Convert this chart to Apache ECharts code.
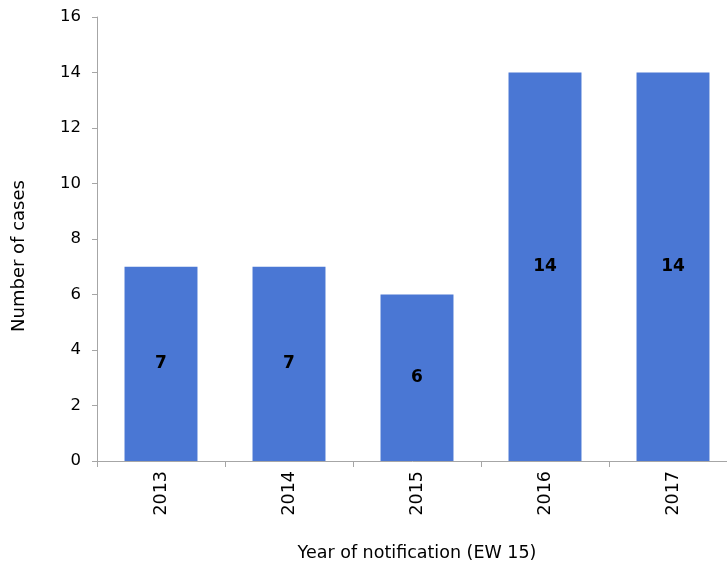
<!DOCTYPE html>
<html><head><meta charset="utf-8">
<script src="https://cdn.jsdelivr.net/npm/echarts@6/dist/echarts.min.js"></script>
<style>html,body{margin:0;padding:0;background:#fff}#c{width:727px;height:565px}</style>
</head><body><div id="c"></div>
<script>
const categories = ['2013','2014','2015','2016','2017'];
const cases = [7,7,6,14,14];
const yTicks = {min:0,max:16,interval:2};
const font = '"DejaVu Sans", Verdana, sans-serif';
const chart = echarts.init(document.getElementById('c'));
chart.setOption({
  animation:false,
  grid:{left:97,width:640,top:17,bottom:104,containLabel:false,outerBoundsMode:'none'},
  xAxis:{type:'category',data:categories,
    axisLine:{lineStyle:{color:'#a6a6a6'}},
    axisTick:{show:true,length:6,lineStyle:{color:'#a6a6a6'}},
    axisLabel:{rotate:90,color:'#000',fontFamily:font,fontSize:17.5,margin:10},
    name:'Year of notification (EW 15)',nameLocation:'middle',nameGap:83,
    nameTextStyle:{color:'#000',fontFamily:font,fontSize:17.5}},
  yAxis:{type:'value',min:yTicks.min,max:yTicks.max,interval:yTicks.interval,
    axisLine:{show:true,lineStyle:{color:'#a6a6a6'}},
    axisTick:{show:true,length:5,lineStyle:{color:'#a6a6a6'}},
    splitLine:{show:false},
    axisLabel:{color:'#000',fontFamily:font,fontSize:16.5,margin:16},
    name:'Number of cases',nameLocation:'middle',nameGap:69,
    nameTextStyle:{color:'#000',fontFamily:font,fontSize:18,padding:[0,0,0,-34]}},
  series:[{type:'bar',data:cases,barWidth:'57%',
    itemStyle:{color:'#4a77d4'},
    label:{show:true,position:'inside',color:'#000',fontWeight:'bold',fontFamily:font,fontSize:17}}]
});
</script></body></html>
